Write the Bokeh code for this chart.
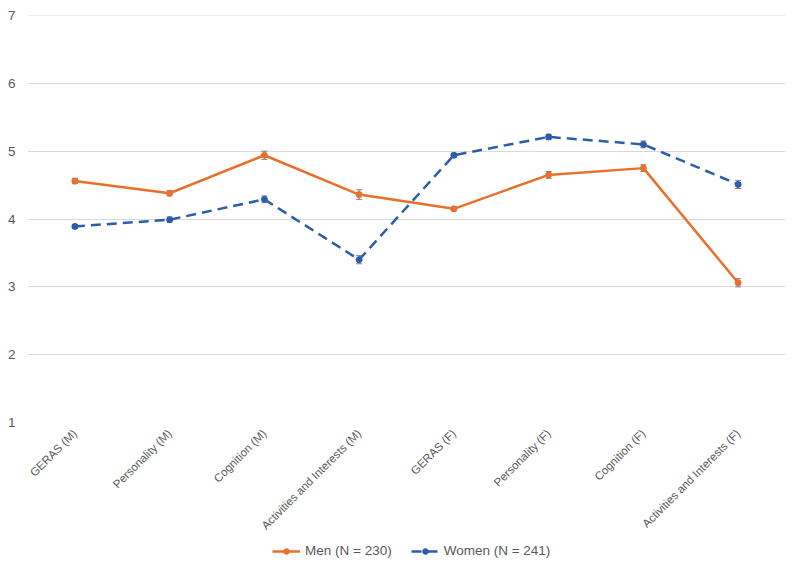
import math
from bokeh.plotting import figure
from bokeh.layouts import column
from bokeh.models import ColumnDataSource, Whisker, TeeHead, Legend, LegendItem, FactorRange, Span
from bokeh.embed import file_html
from bokeh.resources import INLINE

categories = ["GERAS (M)", "Personality (M)", "Cognition (M)", "Activities and Interests (M)",
              "GERAS (F)", "Personality (F)", "Cognition (F)", "Activities and Interests (F)"]
men = [4.56, 4.38, 4.94, 4.36, 4.15, 4.65, 4.75, 3.06]
men_err = [0.04, 0.04, 0.06, 0.07, 0.03, 0.05, 0.05, 0.06]
women = [3.89, 3.99, 4.29, 3.40, 4.94, 5.21, 5.10, 4.51]
women_err = [0.03, 0.04, 0.05, 0.06, 0.03, 0.04, 0.05, 0.06]
y_ticks = [1, 2, 3, 4, 5, 6, 7]
series_labels = ["Men (N = 230)", "Women (N = 241)"]

ORANGE = "#E8702A"
BLUE = "#2C5CAA"
GRAY = "#595959"
GRID = "#D9D9D9"
DASH = "10 6"

p = figure(width=800, height=538, x_range=FactorRange(*categories), y_range=(1, 7),
           output_backend="svg", toolbar_location=None,
           min_border_left=27, min_border_right=15, min_border_top=15, min_border_bottom=116)
p.outline_line_color = None
p.xgrid.grid_line_color = None
p.ygrid.grid_line_color = GRID
p.ygrid.grid_line_width = 1
p.add_layout(Span(location=y_ticks[-1], dimension="width", line_color=GRID, line_width=1))

p.yaxis.ticker = y_ticks
p.yaxis.axis_line_color = None
p.yaxis.major_tick_line_color = None
p.yaxis.minor_tick_line_color = None
p.yaxis.major_label_text_color = GRAY
p.yaxis.major_label_text_font = "Liberation Sans"
p.yaxis.major_label_text_font_size = "13.5px"
p.yaxis.major_label_standoff = 6

p.xaxis.axis_line_color = None
p.xaxis.major_tick_line_color = None
p.xaxis.major_label_orientation = math.pi / 4
p.xaxis.major_label_text_color = GRAY
p.xaxis.major_label_text_font = "Liberation Sans"
p.xaxis.major_label_text_font_size = "11.5px"
p.xaxis.major_label_standoff = 3

src = ColumnDataSource(dict(
    x=categories, men=men, women=women,
    men_lo=[m - e for m, e in zip(men, men_err)], men_hi=[m + e for m, e in zip(men, men_err)],
    women_lo=[w - e for w, e in zip(women, women_err)], women_hi=[w + e for w, e in zip(women, women_err)],
))

p.line("x", "men", source=src, line_color=ORANGE, line_width=2.5)
p.scatter("x", "men", source=src, size=6, fill_color=ORANGE, line_color=ORANGE)
p.line("x", "women", source=src, line_color=BLUE, line_width=2.5, line_dash=DASH)
p.scatter("x", "women", source=src, size=6, fill_color=BLUE, line_color=BLUE)

for lo, hi in (("men_lo", "men_hi"), ("women_lo", "women_hi")):
    w = Whisker(source=src, base="x", lower=lo, upper=hi, line_color="#7F7F7F", line_width=1,
                upper_head=TeeHead(size=6, line_color="#7F7F7F", line_width=1),
                lower_head=TeeHead(size=6, line_color="#7F7F7F", line_width=1))
    p.add_layout(w)

# legend strip below the chart: same series drawn out of its visible range,
# so only the legend swatches show
lf = figure(width=800, height=31, x_range=FactorRange(*categories), y_range=(-2, -1),
            output_backend="svg", toolbar_location=None, x_axis_type=None, y_axis_type=None,
            min_border_left=0, min_border_right=0, min_border_top=0, min_border_bottom=0)
lf.outline_line_color = None
lf.xgrid.grid_line_color = None
lf.ygrid.grid_line_color = None
la = lf.line("x", "men", source=src, line_color=ORANGE, line_width=2.5)
sa = lf.scatter("x", "men", source=src, size=6, fill_color=ORANGE, line_color=ORANGE)
lb = lf.line("x", "women", source=src, line_color=BLUE, line_width=2.5, line_dash=DASH)
sb = lf.scatter("x", "women", source=src, size=6, fill_color=BLUE, line_color=BLUE)

legend = Legend(items=[LegendItem(label=series_labels[0], renderers=[la, sa]),
                       LegendItem(label=series_labels[1], renderers=[lb, sb])],
                orientation="horizontal", location=(245, 11),
                label_text_color=GRAY, label_text_font="Liberation Sans", label_text_font_size="13.5px",
                border_line_color=None, background_fill_alpha=0, glyph_width=28, glyph_height=14,
                label_standoff=5, spacing=19, margin=0, padding=4)
lf.add_layout(legend, "center")

layout = column(p, lf, spacing=0)
open("out.html", "w").write(file_html(layout, INLINE))
